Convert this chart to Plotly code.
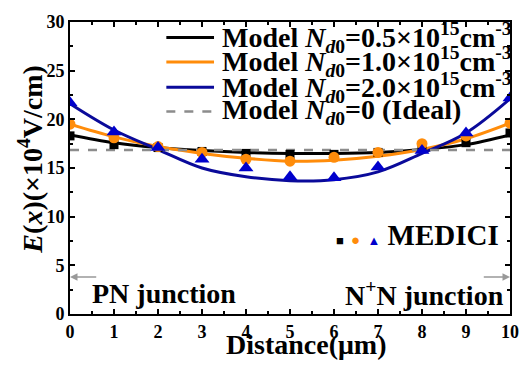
import plotly.graph_objects as go

# Model curves
x_model = [0, 1, 2, 3, 4, 5, 6, 7, 8, 9, 10]
model_05 = [18.4, 17.6, 17.1, 16.8, 16.6, 16.5, 16.5, 16.6, 16.9, 17.4, 18.4]
model_10 = [19.5, 18.2, 17.2, 16.5, 16.0, 15.7, 15.8, 16.2, 16.9, 18.0, 19.6]
model_20 = [21.6, 18.9, 16.9, 15.0, 14.1, 13.7, 13.8, 14.6, 16.5, 18.6, 22.1]
ideal_x = [0, 10]
ideal_y = [16.85, 16.85]

# MEDICI simulation points
x_sim = [0, 1, 2, 3, 4, 5, 6, 7, 8, 9, 10]
sim_05 = [18.3, 17.4, 17.1, 16.7, 16.5, 16.4, 16.4, 16.6, 17.0, 17.6, 18.6]
sim_10 = [19.5, 18.1, 17.2, 16.6, 15.9, 15.7, 16.1, 16.6, 17.5, 18.3, 19.6]
sim_20 = [21.7, 18.7, 17.1, 15.9, 15.0, 14.1, 14.0, 15.1, 16.8, 18.6, 22.2]

names = [
    "Model <i>N</i><sub><i>d</i>0</sub>=0.5×10<sup>15</sup>cm<sup>-3</sup>",
    "Model <i>N</i><sub><i>d</i>0</sub>=1.0×10<sup>15</sup>cm<sup>-3</sup>",
    "Model <i>N</i><sub><i>d</i>0</sub>=2.0×10<sup>15</sup>cm<sup>-3</sup>",
    "Model <i>N</i><sub><i>d</i>0</sub>=0 (Ideal)",
]
c_black = "#000000"
c_orange = "#FF8C0A"
c_blue = "#0A0A9A"
c_blue_m = "#0000CC"
c_gray = "#8C8C8C"
colors = [c_black, c_orange, c_blue, c_gray]
dashes = ["solid", "solid", "solid", "dash"]

SERIF = "Liberation Serif, Times New Roman, serif"

fig = go.Figure()
for ys, c, nm in [(model_05, c_black, names[0]), (model_10, c_orange, names[1]), (model_20, c_blue, names[2])]:
    fig.add_trace(go.Scatter(x=x_model, y=ys, mode="lines", name=nm, showlegend=False,
                             line=dict(color=c, width=3, shape="spline", smoothing=1.0)))
fig.add_trace(go.Scatter(x=ideal_x, y=ideal_y, mode="lines", name=names[3], showlegend=False,
                         line=dict(color=c_gray, width=2.5, dash="dash")))

fig.add_trace(go.Scatter(x=x_sim, y=sim_05, mode="markers", showlegend=False,
                         marker=dict(symbol="square", size=9, color=c_black)))
fig.add_trace(go.Scatter(x=x_sim, y=sim_10, mode="markers", showlegend=False,
                         marker=dict(symbol="circle", size=11, color=c_orange)))
fig.add_trace(go.Scatter(x=x_sim, y=sim_20, mode="markers", showlegend=False,
                         marker=dict(symbol="triangle-up", size=13, color=c_blue_m)))

axis_common = dict(
    showline=True, linecolor="black", linewidth=2, mirror="allticks",
    ticks="inside", ticklen=5, tickwidth=2, tickcolor="black",
    showgrid=False, zeroline=False,
    tickfont=dict(family=SERIF, size=18, color="black", weight="bold"),
)
fig.update_xaxes(range=[0, 10], dtick=1, tick0=0, ticklabelstandoff=0,
                 minor=dict(ticks="inside", dtick=0.5, ticklen=3, tickwidth=2, tickcolor="black"),
                 **axis_common)
fig.update_yaxes(range=[0, 30], dtick=5, tick0=0,
                 minor=dict(ticks="inside", dtick=2.5, ticklen=3, tickwidth=2, tickcolor="black"),
                 **axis_common)

title_font = dict(family=SERIF, size=28, color="black", weight="bold")
# Axis titles
fig.add_annotation(x=(308 - 70) / 443, y=-0.103, xref="paper", yref="paper", text="Distance(μm)",
                   showarrow=False, xanchor="center", yanchor="middle", font=title_font)
fig.add_annotation(x=-0.09, y=0.53, xref="paper", yref="paper",
                   text="<i>E</i>(<i>x</i>)(×10<sup>4</sup>V/cm)", showarrow=False, textangle=-90,
                   xanchor="center", yanchor="middle", font=title_font)

# Manual legend
leg_py = [30, 55, 81, 106]
for i, (nm, c, d) in enumerate(zip(names, colors, dashes)):
    yp = (314 - leg_py[i]) / 300
    fig.add_shape(type="line", xref="paper", yref="paper",
                  x0=(167 - 70) / 443, x1=(215 - 70) / 443, y0=yp, y1=yp,
                  line=dict(color=c, width=3 if d == "solid" else 2.5, dash=d))
    fig.add_annotation(x=(221 - 70) / 443, y=yp, xref="paper", yref="paper", text=nm, showarrow=False,
                       xanchor="left", yanchor="middle",
                       font=dict(family=SERIF, size=28, color="black", weight="bold"))

# Junction arrows and labels
fig.add_annotation(x=0, y=3.8, ax=0.63, ay=3.8, xref="x", yref="y", axref="x", ayref="y",
                   text="", showarrow=True, arrowhead=2, arrowsize=1, arrowwidth=1.5, arrowcolor="#999999")
fig.add_annotation(x=10, y=3.8, ax=9.37, ay=3.8, xref="x", yref="y", axref="x", ayref="y",
                   text="", showarrow=True, arrowhead=2, arrowsize=1, arrowwidth=1.5, arrowcolor="#999999")
fig.add_annotation(x=0.45, y=2.1, xref="x", yref="y", text="PN junction", showarrow=False, xanchor="left",
                   yanchor="middle", font=dict(family=SERIF, size=28, color="black", weight="bold"))
fig.add_annotation(x=9.9, y=2.1, xref="x", yref="y", text="N<sup>+</sup>N junction", showarrow=False,
                   xanchor="right", yanchor="middle",
                   font=dict(family=SERIF, size=28, color="black", weight="bold"))
fig.add_annotation(x=6.0, y=8.1, xref="x", yref="y", showarrow=False, xanchor="left", yanchor="middle",
                   text="<span style='color:#000000;font-size:13px'>■</span> <span style='color:#FF8C0A;font-size:15px'>●</span> <span style='color:#0000CC;font-size:13px'>▲</span> MEDICI",
                   font=dict(family=SERIF, size=29, color="black", weight="bold"))

fig.update_layout(
    width=531, height=368,
    margin=dict(l=70, r=18, t=14, b=54),
    plot_bgcolor="white", paper_bgcolor="white",
    showlegend=False,
)

fig.write_html("out.html", config={"displayModeBar": False},
               post_script="document.body.style.margin='0px';document.body.style.overflow='hidden';")
